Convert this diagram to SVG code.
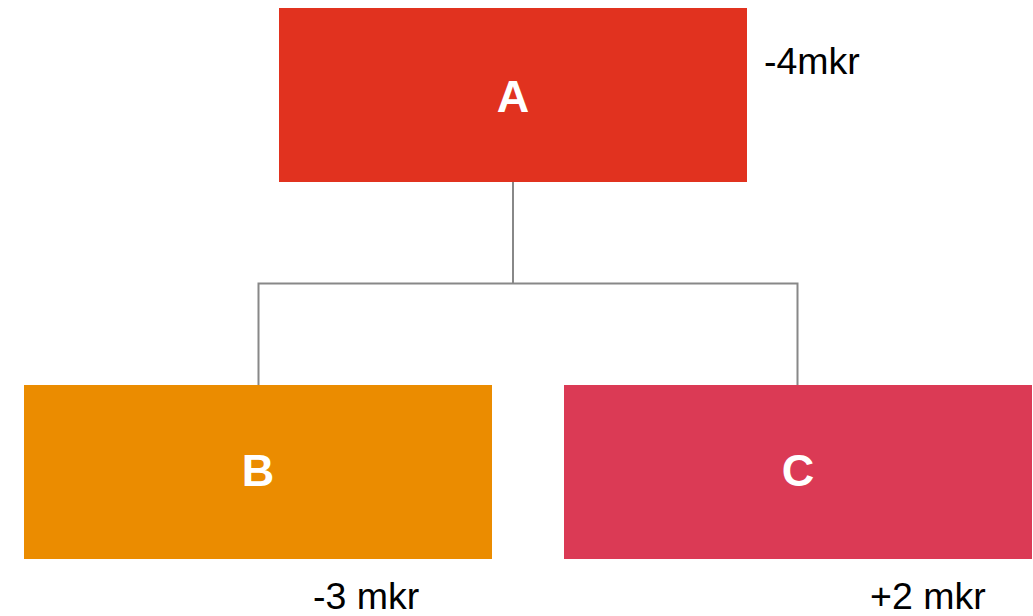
<svg xmlns="http://www.w3.org/2000/svg" width="1033" height="616" viewBox="0 0 1033 616">
<style>
.lbl{font-family:"Liberation Sans",Arial,sans-serif;font-weight:bold;font-size:45px;fill:#ffffff;text-anchor:middle}
.note{font-family:"Liberation Sans",Arial,sans-serif;font-size:37.5px;fill:#000000}
.conn{fill:none;stroke:#888888;stroke-width:2}
</style>
<rect width="1033" height="616" fill="#ffffff"/>
<g id="connectors">
<path class="conn" d="M513,182 V283"/>
<path class="conn" d="M258.5,385 V283.5 H797.5 V385"/>
</g>
<g id="A">
<rect x="279" y="8" width="468" height="174" fill="#e1321f"/>
<text class="lbl" x="513" y="112">A</text>
</g>
<g id="B">
<rect x="24" y="385" width="468" height="174" fill="#eb8c00"/>
<text class="lbl" x="258" y="486">B</text>
</g>
<g id="C">
<rect x="564" y="385" width="468" height="174" fill="#db3a55"/>
<text class="lbl" x="798" y="486">C</text>
</g>
<text class="note" x="764" y="74">-4mkr</text>
<text class="note" x="313" y="609">-3 mkr</text>
<text class="note" x="870" y="609">+2 mkr</text>
</svg>
